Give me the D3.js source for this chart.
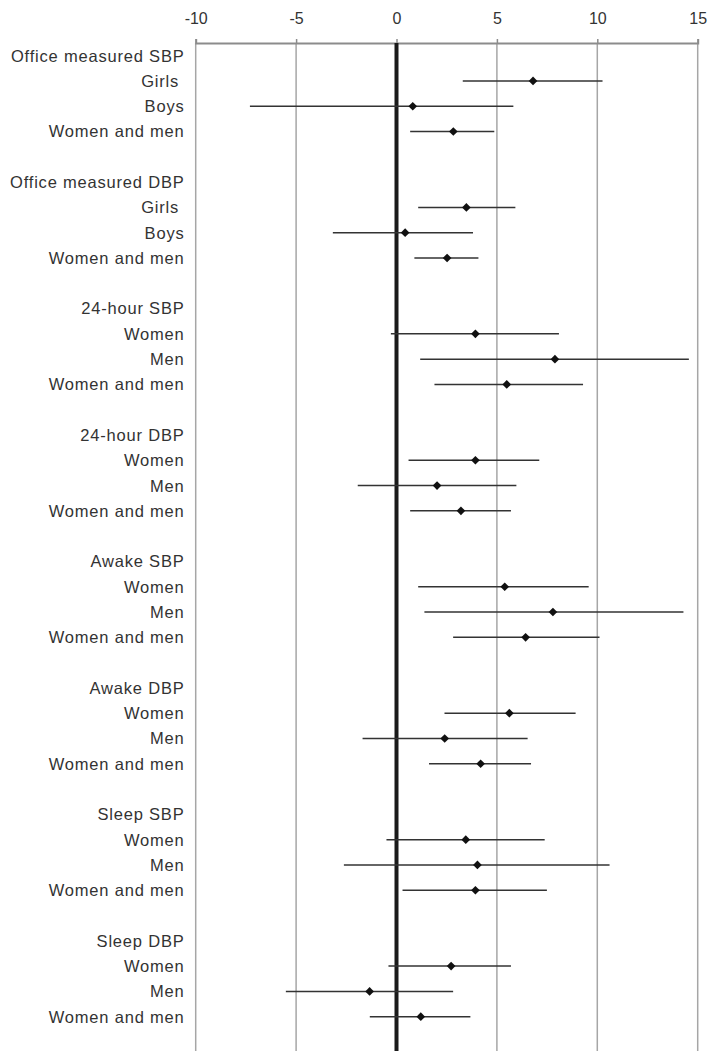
<!DOCTYPE html>
<html>
<head>
<meta charset="utf-8">
<script src="https://cdn.jsdelivr.net/npm/d3@7"></script>
<style>
  body { margin: 0; background: #fff; }
  svg { display: block; }
</style>
</head>
<body>
<svg id="chart"></svg>
<script>
// Forest plot: mean difference with 95% CI per subgroup.

const groupNames = [
  "Office measured SBP",
  "Office measured DBP",
  "24-hour SBP",
  "24-hour DBP",
  "Awake SBP",
  "Awake DBP",
  "Sleep SBP",
  "Sleep DBP",
];

const subgroupNames = [
  ["Girls ", "Boys", "Women and men"],
  ["Girls ", "Boys", "Women and men"],
  ["Women", "Men", "Women and men"],
  ["Women", "Men", "Women and men"],
  ["Women", "Men", "Women and men"],
  ["Women", "Men", "Women and men"],
  ["Women", "Men", "Women and men"],
  ["Women", "Men", "Women and men"],
];

const means = [
  [6.80, 0.81, 2.83],
  [3.48, 0.43, 2.52],
  [3.93, 7.89, 5.49],
  [3.93, 2.02, 3.21],
  [5.39, 7.79, 6.43],
  [5.62, 2.40, 4.19],
  [3.45, 4.03, 3.93],
  [2.72, -1.34, 1.21],
];

const lowerCI = [
  [3.30, -7.30, 0.68],
  [1.08, -3.17, 0.89],
  [-0.28, 1.18, 1.89],
  [0.60, -1.93, 0.68],
  [1.08, 1.39, 2.82],
  [2.39, -1.69, 1.62],
  [-0.50, -2.62, 0.30],
  [-0.40, -5.51, -1.33],
];

const upperCI = [
  [10.26, 5.82, 4.87],
  [5.92, 3.81, 4.08],
  [8.09, 14.56, 9.29],
  [7.11, 5.97, 5.70],
  [9.57, 14.29, 10.11],
  [8.92, 6.53, 6.70],
  [7.38, 10.61, 7.49],
  [5.70, 2.82, 3.68],
];

const tickValues = [-10, -5, 0, 5, 10, 15];

const width = 710;
const height = 1051;
const plotTop = 43;
const rowHeight = 25.29;
const labelX = 184.5;

// rows: header, three subgroups, blank spacer
const rows = [];
groupNames.forEach((name, gi) => {
  rows.push({ label: name, header: true });
  subgroupNames[gi].forEach((sub, si) => {
    rows.push({
      label: sub,
      header: false,
      mean: means[gi][si],
      lo: lowerCI[gi][si],
      hi: upperCI[gi][si],
    });
  });
  rows.push({ label: "", header: true });
});

const svg = d3.select("#chart").attr("width", width).attr("height", height);

const x = d3.scaleLinear().domain([-10, 15]).range([195.7, 697.7]);
const y = d3
  .scaleBand()
  .domain(d3.range(rows.length))
  .range([plotTop, plotTop + rows.length * rowHeight]);
const yMid = (i) => y(i) + y.bandwidth() / 2;
const plotBottom = plotTop + rows.length * rowHeight;

// vertical gridlines
svg
  .append("g")
  .selectAll("line")
  .data(tickValues.filter((t) => t !== 0))
  .join("line")
  .attr("x1", (d) => x(d))
  .attr("x2", (d) => x(d))
  .attr("y1", plotTop)
  .attr("y2", plotBottom)
  .attr("stroke", "#a6a6a6")
  .attr("stroke-width", 1.5);

// top axis (plain hyphen for negatives, like the source)
const axis = svg
  .append("g")
  .attr("transform", `translate(0,${plotTop})`)
  .call(
    d3.axisTop(x)
      .tickValues(tickValues)
      .tickFormat((d) => String(d))
      .tickSize(4)
      .tickSizeOuter(4)
      .tickPadding(15)
  );

axis.select(".domain").attr("stroke", "#8c8c8c").attr("stroke-width", 2);
axis.selectAll(".tick line").attr("stroke", "#8c8c8c").attr("stroke-width", 1.5);
axis
  .selectAll(".tick text")
  .attr("fill", "#333")
  .attr("dy", "0")
  .style("font-family", "'Liberation Sans', Arial, sans-serif")
  .style("font-size", "16px");

// zero reference line
svg
  .append("line")
  .attr("x1", x(0))
  .attr("x2", x(0))
  .attr("y1", plotTop)
  .attr("y2", plotBottom)
  .attr("stroke", "#1a1a1a")
  .attr("stroke-width", 4);

// row labels
svg
  .append("g")
  .selectAll("text")
  .data(rows.map((r, i) => ({ ...r, i })))
  .join("text")
  .attr("x", labelX)
  .attr("y", (d) => yMid(d.i))
  .attr("dy", "0.36em")
  .attr("text-anchor", "end")
  .attr("fill", "#333")
  .style("white-space", "pre")
  .style("font-family", "'Liberation Sans', Arial, sans-serif")
  .style("font-size", "16.5px")
  .style("letter-spacing", "0.8px")
  .text((d) => d.label);

const points = rows.map((r, i) => ({ ...r, i })).filter((r) => !r.header);

// confidence intervals
svg
  .append("g")
  .selectAll("line")
  .data(points)
  .join("line")
  .attr("x1", (d) => x(d.lo))
  .attr("x2", (d) => x(d.hi))
  .attr("y1", (d) => yMid(d.i))
  .attr("y2", (d) => yMid(d.i))
  .attr("stroke", "#333")
  .attr("stroke-width", 1.5);

// point estimates
svg
  .append("g")
  .selectAll("path")
  .data(points)
  .join("path")
  .attr("transform", (d) => `translate(${x(d.mean)},${yMid(d.i)})`)
  .attr("d", d3.symbol(d3.symbolDiamond2, 48))
  .attr("fill", "#111");
</script>
</body>
</html>
